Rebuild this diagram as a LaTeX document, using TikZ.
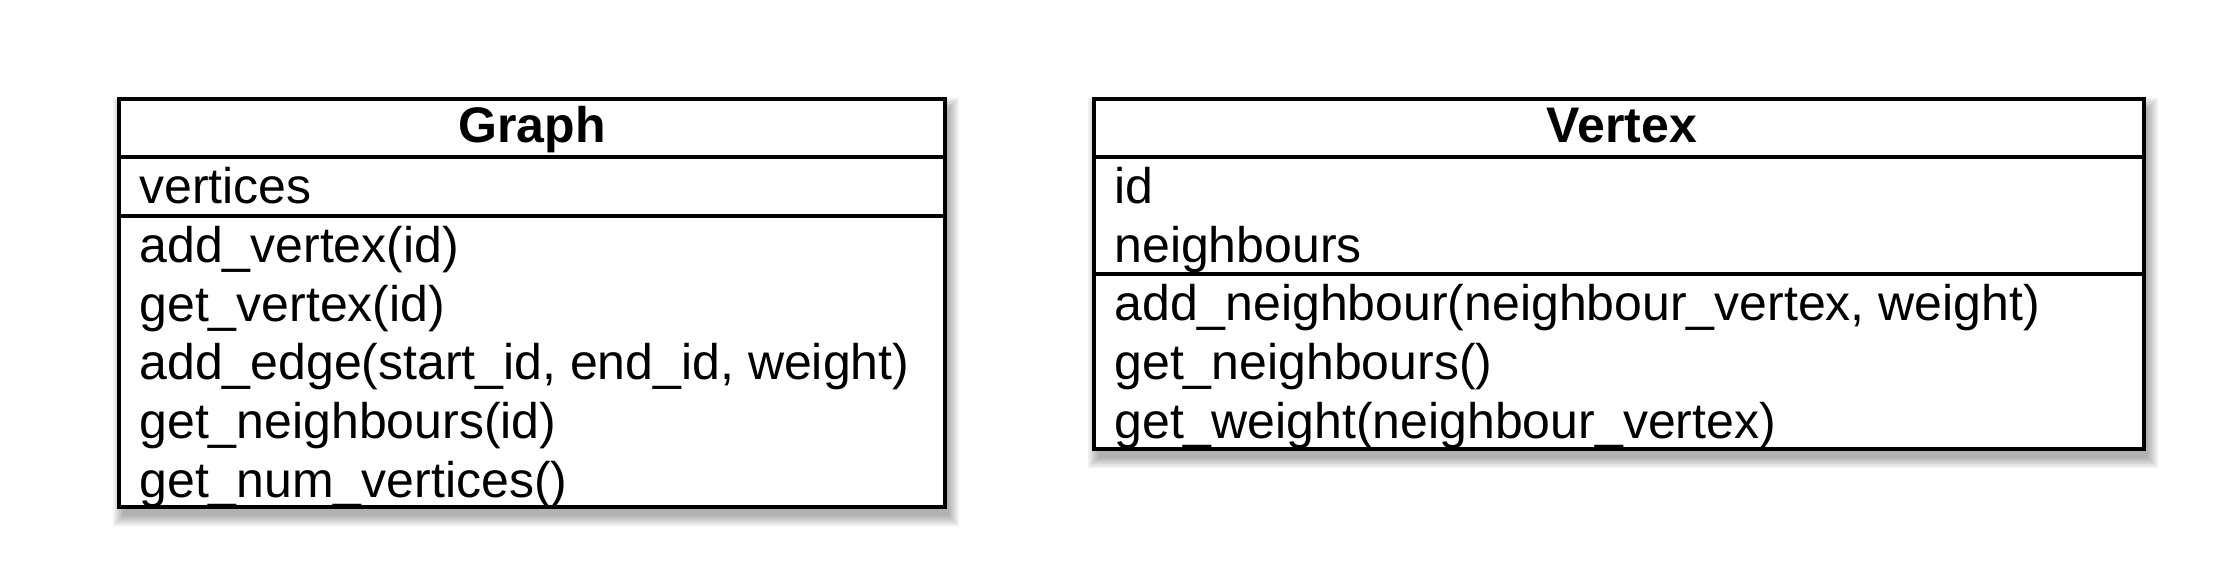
\documentclass[tikz,border=0pt]{standalone}
\usepackage{fontspec}
\setmainfont{Liberation Sans}
\begin{document}
\begin{tikzpicture}[x=0.5pt,y=-0.5pt,
  frame/.style={line width=1.6pt, draw=black},
  sepline/.style={line width=1.6pt, draw=black},
  member/.style={anchor=base west, inner sep=0pt, font=\fontsize{25pt}{29pt}\selectfont},
  classtitle/.style={anchor=base, inner sep=0pt, font=\fontsize{25pt}{29pt}\selectfont\bfseries},
  shadowlayer/.style={fill=black, opacity=0.06}]
\useasboundingbox (0,0) rectangle (2232,587);
% ---- Graph class ----
\foreach \k in {0,2,4,6,8,10}{\fill[shadowlayer] (123-\k,108-\k) rectangle (949+\k,516+\k);}
\fill[white] (119,99) rectangle (945,507);
\draw[sepline] (119,157) -- (945,157);
\draw[sepline] (119,216) -- (945,216);
\draw[frame] (119,99) rectangle (945,507);
\node[classtitle] (gT) at (532,143) {Graph};
\node[member] (gA1) at (139,204) {vertices};
\node[member] (gM1) at (139,263) {add\_vertex(id)};
\node[member] (gM2) at (139,321.5) {get\_vertex(id)};
\node[member] (gM3) at (139,380) {add\_edge(start\_id, end\_id, weight)};
\node[member] (gM4) at (139,438.5) {get\_neighbours(id)};
\node[member] (gM5) at (139,497) {get\_num\_vertices()};
% ---- Vertex class ----
\foreach \k in {0,2,4,6,8,10}{\fill[shadowlayer] (1098-\k,108-\k) rectangle (2148+\k,458+\k);}
\fill[white] (1094,99) rectangle (2144,449);
\draw[sepline] (1094,157) -- (2144,157);
\draw[sepline] (1094,274) -- (2144,274);
\draw[frame] (1094,99) rectangle (2144,449);
\node[classtitle] (vT) at (1622,143) {Vertex};
\node[member] (vA1) at (1114,204) {id};
\node[member] (vA2) at (1114,262.5) {neighbours};
\node[member] (vM1) at (1114,321) {add\_neighbour(neighbour\_vertex, weight)};
\node[member] (vM2) at (1114,379.5) {get\_neighbours()};
\node[member] (vM3) at (1114,438) {get\_weight(neighbour\_vertex)};
\end{tikzpicture}
\end{document}
